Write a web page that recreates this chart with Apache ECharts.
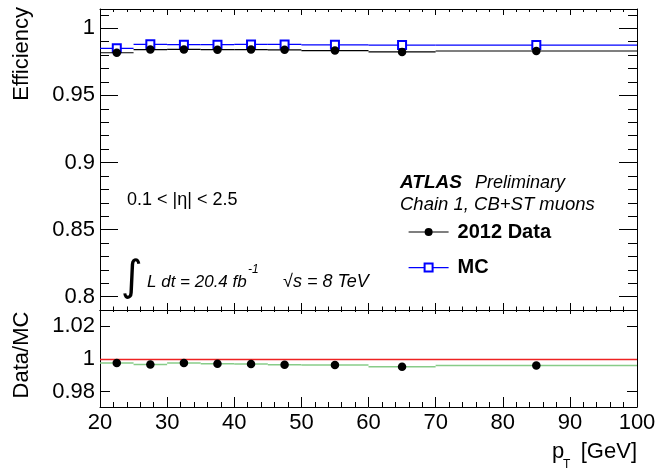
<!DOCTYPE html>
<html>
<head>
<meta charset="UTF-8">
<title>Efficiency vs pT</title>
<script src="https://cdn.jsdelivr.net/npm/echarts@6/dist/echarts.min.js"></script>
<style>
  body { margin: 0; background: #fff; }
</style>
</head>
<body>
<div id="container" style="width: 658px; height: 475px;"></div>
<script type="text/javascript">
// bins in pT [GeV]
var binLow = [20, 25, 30, 35, 40, 45, 50, 60, 70];
var binHigh = [25, 30, 35, 40, 45, 50, 60, 70, 100];
var ptCenter = [22.5, 27.5, 32.5, 37.5, 42.5, 47.5, 55, 65, 85];

// efficiencies
var effData = [0.9818, 0.9842, 0.9843, 0.9841, 0.9842, 0.9840, 0.9834, 0.9824, 0.9831];
var effMC = [0.9851, 0.9881, 0.9878, 0.9878, 0.9880, 0.9880, 0.9877, 0.9875, 0.9875];
var ratio = [0.9974, 0.9966, 0.9974, 0.9970, 0.9968, 0.9964, 0.9962, 0.9951, 0.9960];

// tick values
var effMajorTicks = [0.8, 0.85, 0.9, 0.95, 1];
var effMinorTicks = [0.80, 0.81, 0.82, 0.83, 0.84, 0.85, 0.86, 0.87, 0.88, 0.89, 0.90,
    0.91, 0.92, 0.93, 0.94, 0.95, 0.96, 0.97, 0.98, 0.99, 1.00, 1.01];
var ratioTicks = [0.98, 1, 1.02];

var FONT = 'Liberation Sans, Arial, Helvetica, sans-serif';

function points(ys) {
    var out = [];
    for (var i = 0; i < ptCenter.length; i++) out.push([ptCenter[i], ys[i]]);
    return out;
}
function bars(ys) {
    var out = [];
    for (var i = 0; i < binLow.length; i++) out.push([binLow[i], ys[i], binHigh[i]]);
    return out;
}
// horizontal bin-width bars
function barRenderer(color, width) {
    return function (params, api) {
        var a = api.coord([api.value(0), api.value(1)]);
        var b = api.coord([api.value(2), api.value(1)]);
        return {
            type: 'line',
            shape: { x1: a[0], y1: a[1], x2: b[0], y2: b[1] },
            style: { stroke: color, lineWidth: width }
        };
    };
}

function xAx(grid, pos, major, minor, labels) {
    return {
        type: 'value', gridIndex: grid, position: pos, min: 20, max: 100, interval: 10,
        axisLine: { show: true, onZero: false, lineStyle: { color: '#000', width: 1 } },
        axisTick: { show: true, inside: true, length: major, lineStyle: { color: '#000' } },
        minorTick: { show: true, splitNumber: 5, length: minor, lineStyle: { color: '#000' } },
        axisLabel: { show: labels, color: '#000', fontSize: 22, fontFamily: FONT, margin: 5 },
        splitLine: { show: false }
    };
}
function yAx(grid, pos, min, max, ticks, len, labels, showLine) {
    return {
        type: 'value', gridIndex: grid, position: pos, min: min, max: max,
        axisLine: { show: showLine, onZero: false, lineStyle: { color: '#000', width: 1 } },
        axisTick: { show: true, inside: true, length: len, customValues: ticks, lineStyle: { color: '#000' } },
        axisLabel: { show: labels, customValues: ticks, color: '#000', fontSize: 22, fontFamily: FONT, margin: 5 },
        splitLine: { show: false }
    };
}

var mychart = echarts.init(document.getElementById('container'), null, { renderer: 'canvas' });

var option = {
    animation: false,
    backgroundColor: '#fff',
    grid: [
        { left: 100, top: 9, width: 537, height: 301, outerBoundsMode: 'none' },
        { left: 100, top: 310, width: 537, height: 97, outerBoundsMode: 'none' }
    ],
    xAxis: [
        xAx(0, 'bottom', 7, 3.5, false),
        xAx(0, 'top', 6, 3, false),
        xAx(1, 'bottom', 10, 5, true),
        xAx(1, 'top', 4, 2, false)
    ],
    yAxis: [
        yAx(0, 'left', 0.7901, 1.0144, effMajorTicks, 18, true, true),
        yAx(0, 'left', 0.7901, 1.0144, effMinorTicks, 9, false, false),
        yAx(0, 'right', 0.7901, 1.0144, effMajorTicks, 18, false, true),
        yAx(0, 'right', 0.7901, 1.0144, effMinorTicks, 9, false, false),
        yAx(1, 'left', 0.9706, 1.0298, ratioTicks, 10, true, true),
        yAx(1, 'right', 0.9706, 1.0298, ratioTicks, 10, false, true)
    ],
    legend: {
        orient: 'vertical', left: 408, top: 222, padding: 0,
        itemWidth: 40, itemHeight: 10, itemGap: 15.6,
        selectedMode: false,
        textStyle: { color: '#000', fontSize: 20, fontWeight: 'bold', fontFamily: FONT, lineHeight: 20, padding: [0, 0, 0, 4] },
        data: [
            { name: '2012 Data', lineStyle: { color: '#000', width: 1.2, opacity: 1 } },
            { name: 'MC', lineStyle: { color: '#0000ff', width: 1.2, opacity: 1 } }
        ]
    },
    series: [
        {
            type: 'custom', name: 'mcBars', xAxisIndex: 0, yAxisIndex: 0,
            encode: { x: 0, y: 1 }, renderItem: barRenderer('#0000ff', 1.2), data: bars(effMC), z: 2
        },
        {
            type: 'line', name: 'MC', xAxisIndex: 0, yAxisIndex: 0, data: points(effMC),
            symbol: 'emptyRect', symbolSize: 8, showSymbol: true,
            itemStyle: { color: '#0000ff', borderWidth: 1.2 },
            lineStyle: { opacity: 0 }, z: 3
        },
        {
            type: 'custom', name: 'dataBars', xAxisIndex: 0, yAxisIndex: 0,
            encode: { x: 0, y: 1 }, renderItem: barRenderer('#000', 1.2), data: bars(effData), z: 4
        },
        {
            type: 'line', name: '2012 Data', xAxisIndex: 0, yAxisIndex: 0, data: points(effData),
            symbol: 'circle', symbolSize: 8.5, showSymbol: true,
            itemStyle: { color: '#000' },
            lineStyle: { opacity: 0 }, z: 5
        },
        // ratio panel
        {
            type: 'custom', name: 'ratioBars', xAxisIndex: 2, yAxisIndex: 4,
            encode: { x: 0, y: 1 }, renderItem: barRenderer('#88cc88', 1.5), data: bars(ratio), z: 2
        },
        {
            type: 'scatter', name: 'ratio', xAxisIndex: 2, yAxisIndex: 4, data: points(ratio),
            symbol: 'circle', symbolSize: 8.5, itemStyle: { color: '#000', opacity: 1 }, z: 5,
            markLine: {
                silent: true, symbol: 'none', label: { show: false },
                lineStyle: { color: '#ee2222', width: 1.4, type: 'solid' },
                data: [{ yAxis: 1 }]
            }
        }
    ],
    graphic: [
        { type: 'text', x: 22, y: 7, rotation: Math.PI / 2,
          style: { text: 'Efficiency', font: '22px ' + FONT, fill: '#000', align: 'right', verticalAlign: 'middle' } },
        { type: 'text', x: 22, y: 355, rotation: Math.PI / 2,
          style: { text: 'Data/MC', font: '22px ' + FONT, fill: '#000', align: 'center', verticalAlign: 'middle' } },
        { type: 'text', x: 637, y: 452,
          style: { text: '[GeV]', font: '22px ' + FONT, fill: '#000', align: 'right', verticalAlign: 'middle' } },
        { type: 'text', x: 552, y: 452,
          style: { text: 'p', font: '22px ' + FONT, fill: '#000', align: 'left', verticalAlign: 'middle' } },
        { type: 'text', x: 563, y: 465,
          style: { text: 'T', font: '12px ' + FONT, fill: '#000', align: 'left', verticalAlign: 'middle' } },

        { type: 'text', x: 127, y: 200,
          style: { text: '0.1 < |\u03b7| < 2.5', font: '18px ' + FONT, fill: '#000', align: 'left', verticalAlign: 'middle' } },

        { type: 'text', x: 132, y: 279,
          style: { text: '\u222b', font: '42px DejaVu Sans', fill: '#000', align: 'center', verticalAlign: 'middle' } },
        { type: 'text', x: 147, y: 282,
          style: { text: 'L dt = 20.4 fb', font: 'italic 17px ' + FONT, fill: '#000', align: 'left', verticalAlign: 'middle' } },
        { type: 'text', x: 248, y: 270,
          style: { text: '-1', font: 'italic 12px ' + FONT, fill: '#000', align: 'left', verticalAlign: 'middle' } },
        { type: 'text', x: 283, y: 282,
          style: { text: '\u221as = 8 TeV', font: 'italic 18px ' + FONT, fill: '#000', align: 'left', verticalAlign: 'middle' } },

        { type: 'text', x: 400, y: 183,
          style: { text: 'ATLAS', font: 'italic bold 19px ' + FONT, fill: '#000', align: 'left', verticalAlign: 'middle' } },
        { type: 'text', x: 475, y: 183,
          style: { text: 'Preliminary', font: 'italic 18px ' + FONT, fill: '#000', align: 'left', verticalAlign: 'middle' } },
        { type: 'text', x: 400, y: 205,
          style: { text: 'Chain 1, CB+ST muons', font: 'italic 18.5px ' + FONT, fill: '#000', align: 'left', verticalAlign: 'middle' } }
    ]
};

mychart.setOption(option);
</script>
</body>
</html>
